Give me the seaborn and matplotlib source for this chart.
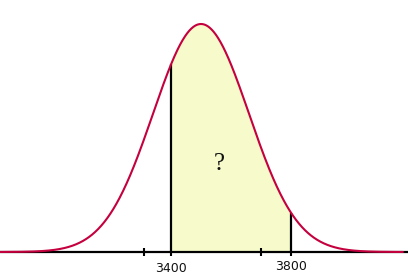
import numpy as np
import pandas as pd
import matplotlib
matplotlib.use("Agg")
import matplotlib.pyplot as plt
import seaborn as sns

# ---- data ----
mean = 3500
sd = 160
x_range = [2830, 4173]
shade_bounds = [3400, 3800]
tick_labels = ["3400", "3800"]
minor_ticks = [3310, 3700]
question_label = "?"

sns.set_theme(style="white")

xs = np.linspace(x_range[0], x_range[1], 800)
pdf = np.exp(-0.5 * ((xs - mean) / sd) ** 2) / (sd * np.sqrt(2 * np.pi))
df = pd.DataFrame({"x": xs, "density": pdf})

peak = 1 / (sd * np.sqrt(2 * np.pi))
k = peak / 228.0  # data units per pixel vertically

fig = plt.figure(figsize=(4.08, 2.78), dpi=100)
ax = fig.add_axes([0, 0, 1, 1])

# shaded area
mask = (df["x"] >= shade_bounds[0]) & (df["x"] <= shade_bounds[1])
ax.fill_between(df["x"][mask], 0, df["density"][mask], color="#F7FBCB", lw=0, zorder=1)

# baseline
ax.axhline(0, color="black", lw=1.6, zorder=2)

# vertical lines at bounds
for b in shade_bounds:
    h = np.exp(-0.5 * ((b - mean) / sd) ** 2) / (sd * np.sqrt(2 * np.pi))
    ax.vlines(b, 0, h, color="black", lw=1.6, zorder=3)

# curve
sns.lineplot(data=df, x="x", y="density", ax=ax, color="#C4003E", lw=1.5, zorder=4)

# tick marks crossing the baseline
for t in minor_ticks + shade_bounds:
    ax.vlines(t, -4 * k, 4 * k if t in minor_ticks else 0, color="black", lw=1.5, zorder=3)

# tick labels
for b, lab, dy in zip(shade_bounds, tick_labels, [-16.5, -14]):
    ax.text(b, dy * k, lab, ha="center", va="center", fontsize=9,
            family="DejaVu Sans", color="#111111")

ax.text(3560, 88 * k, question_label, ha="center", va="center", fontsize=18,
        family="Liberation Serif", color="#111111")

ax.set_xlim(2830, 2830 + 408 / 0.3)
ax.set_ylim(-26 * k, 252 * k)
ax.set_xlabel("")
ax.set_ylabel("")
ax.set_xticks([])
ax.set_yticks([])
for s in ax.spines.values():
    s.set_visible(False)
ax.set_facecolor("white")
fig.patch.set_facecolor("white")

fig.savefig("out.png", dpi=100)
